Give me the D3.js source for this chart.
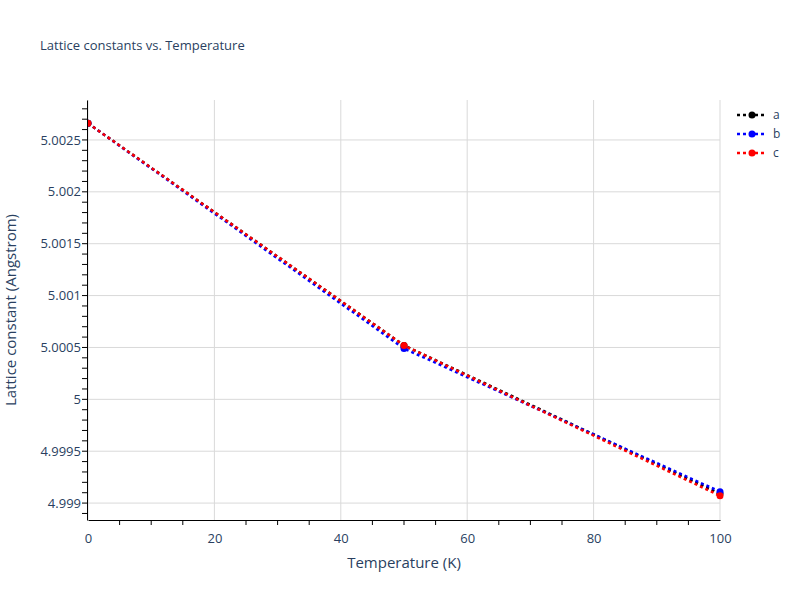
<!DOCTYPE html>
<html><head><meta charset="utf-8">
<script src="https://cdn.jsdelivr.net/npm/d3@7"></script>
<style>body{margin:0;background:#fff}text{font-family:"Open Sans",sans-serif}</style>
</head><body><svg id="c" width="800" height="600"></svg>
<script>
const temps=[0,50,100];
const seriesA=[5.00266,5.00052,4.99909];
const seriesB=[5.00266,5.00049,4.99911];
const seriesC=[5.00266,5.00052,4.99907];
const seriesNames=["a","b","c"];
const seriesColors=["black","blue","red"];
const xTicks=[0,20,40,60,80,100];
const yTicks=[4.999,4.9995,5,5.0005,5.001,5.0015,5.002,5.0025];
const yTickLabels=["4.999","4.9995","5","5.0005","5.001","5.0015","5.002","5.0025"];

const svg=d3.select("#c");
const L=88,R=720,T=100,B=520;
const x=d3.scaleLinear().domain([0,100]).range([L,R]);
const y=d3.scaleLinear().domain([4.998837,5.002885]).range([B,T]);
const tc="#2a3f5f";
svg.append("text").attr("x",40).attr("y",50).attr("font-size",13).attr("fill",tc).text("Lattice constants vs. Temperature");
// grid
svg.append("g").selectAll("line").data(xTicks).join("line").attr("x1",d=>x(d)).attr("x2",d=>x(d)).attr("y1",T).attr("y2",B).attr("stroke","#d9d9d9");
svg.append("g").selectAll("line").data(yTicks).join("line").attr("x1",L).attr("x2",R).attr("y1",d=>y(d)).attr("y2",d=>y(d)).attr("stroke","#d9d9d9");
// axes
const xa=svg.append("g").attr("transform",`translate(0,${B})`).call(d3.axisBottom(x).tickValues(xTicks).tickSize(0).tickPadding(14));
xa.select(".domain").attr("stroke","black");
xa.selectAll("text").attr("font-size",13).attr("fill",tc).style("font-family","Open Sans");
svg.append("g").attr("transform",`translate(0,${B})`).selectAll("line").data(d3.range(0,101,5)).join("line")
 .attr("x1",d=>x(d)).attr("x2",d=>x(d)).attr("y1",0).attr("y2",d=>d%20===0?0:5).attr("stroke","black");
const ya=svg.append("g").attr("transform",`translate(${L-1},0)`).call(d3.axisLeft(y).tickValues(yTicks).tickFormat((d,i)=>yTickLabels[i]).tickSize(0).tickPadding(6).tickSizeOuter(0));
ya.select(".domain").attr("stroke","black");
ya.selectAll("text").attr("font-size",13).attr("fill",tc).style("font-family","Open Sans");
const minor=d3.range(4.9989,5.00285,0.0001);
svg.append("g").selectAll("line").data(minor).join("line").attr("x1",L-6).attr("x2",L-1).attr("y1",d=>y(d)).attr("y2",d=>y(d)).attr("stroke","black");
svg.append("text").attr("x",404).attr("y",568).attr("text-anchor","middle").attr("font-size",15).attr("fill",tc).text("Temperature (K)");
svg.append("text").attr("transform","translate(16,310) rotate(-90)").attr("text-anchor","middle").attr("font-size",15).attr("fill",tc).text("Lattice constant (Angstrom)");
// series
const all=[seriesA,seriesB,seriesC];
const clip=svg.append("clipPath").attr("id","cp").append("rect").attr("x",L).attr("y",T-10).attr("width",R-L+10).attr("height",B-T+10);
const line=d3.line().x((d,i)=>x(temps[i])).y(d=>y(d));
all.forEach((s,k)=>{
 const g=svg.append("g").attr("clip-path","url(#cp)");
 g.append("path").attr("d",line(s)).attr("fill","none").attr("stroke",seriesColors[k]).attr("stroke-width",2.5).attr("stroke-dasharray","3,3");
 g.selectAll("circle").data(s).join("circle").attr("cx",(d,i)=>x(temps[i])).attr("cy",d=>y(d)).attr("r",3.5).attr("fill",seriesColors[k]);
});
// legend
seriesNames.forEach((n,k)=>{
 const gy=115+k*19;
 svg.append("line").attr("x1",737).attr("x2",767).attr("y1",gy).attr("y2",gy).attr("stroke",seriesColors[k]).attr("stroke-width",2.5).attr("stroke-dasharray","3,3");
 svg.append("circle").attr("cx",752).attr("cy",gy).attr("r",3.5).attr("fill",seriesColors[k]);
 svg.append("text").attr("x",773).attr("y",gy+4).attr("font-size",12).attr("fill",tc).text(n);
});
</script></body></html>
